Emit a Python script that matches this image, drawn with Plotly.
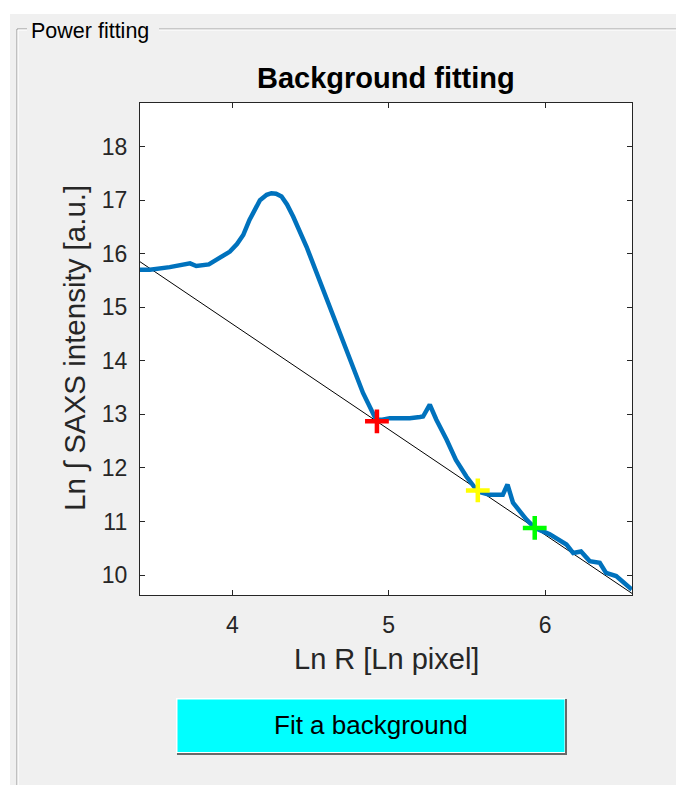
import plotly.graph_objects as go

# ---- data ----
ln_r = [3.401, 3.474, 3.60, 3.70, 3.73, 3.77, 3.85, 3.90, 3.985, 4.03, 4.07, 4.11, 4.177,
        4.22, 4.25, 4.28, 4.315, 4.35, 4.39, 4.475, 4.58, 4.667, 4.75, 4.836, 4.92, 4.96,
        5.007, 5.07, 5.135, 5.20, 5.22, 5.263, 5.305, 5.37, 5.43, 5.497, 5.57, 5.645, 5.73,
        5.76, 5.795, 5.88, 5.934, 6.03, 6.137, 6.18, 6.23, 6.285, 6.35, 6.39, 6.455, 6.555]
ln_i = [15.70, 15.70, 15.75, 15.79, 15.82, 15.77, 15.80, 15.89, 16.04, 16.18, 16.35, 16.63, 17.0,
        17.10, 17.13, 17.12, 17.07, 16.92, 16.69, 16.13, 15.33, 14.64, 14.02, 13.40, 12.90, 12.90,
        12.93, 12.92, 12.93, 12.95, 12.96, 13.18, 12.90, 12.53, 12.15, 11.84, 11.56, 11.50, 11.50,
        11.69, 11.35, 11.04, 10.88, 10.76, 10.57, 10.41, 10.44, 10.26, 10.23, 10.04, 9.98, 9.73]

point_x = [4.925, 5.57, 5.934]
point_y = [12.87, 11.58, 10.88]
point_colors = ["#ff0000", "#ffff00", "#00ff00"]

fit_slope = -1.969
fit_intercept = 22.565
fit_x = [3.401, 6.556]
fit_y = [fit_intercept + fit_slope * v for v in fit_x]

x_ticks = [4, 5, 6]
y_ticks = [10, 11, 12, 13, 14, 15, 16, 17, 18]

# ---- geometry (pixels) ----
W, H = 676, 785
L, R, T, B = 140, 632, 103, 595
PW, PH = R - L, B - T


def px(x):
    return (x - L) / PW


def py(y):
    return (B - y) / PH


FONT = "Liberation Sans, Arial, Helvetica, sans-serif"
TXT = "#262626"

fig = go.Figure()
fig.add_trace(go.Scatter(x=fit_x, y=fit_y, mode="lines",
                         line=dict(color="black", width=1), hoverinfo="skip"))
fig.add_trace(go.Scatter(x=ln_r, y=ln_i, mode="lines",
                         line=dict(color="#0072BD", width=4.5), hoverinfo="skip"))
for xx, yy, cc in zip(point_x, point_y, point_colors):
    fig.add_trace(go.Scatter(x=[xx], y=[yy], mode="markers",
                             marker=dict(symbol="cross-thin", size=17, color=cc,
                                         line=dict(color=cc, width=4.5)),
                             hoverinfo="skip"))

axis_common = dict(showline=True, linecolor=TXT, linewidth=1.3, mirror="ticks",
                   ticks="inside", ticklen=5, tickcolor=TXT, showgrid=False,
                   zeroline=False, tickfont=dict(family=FONT, size=23, color=TXT))

fig.update_xaxes(range=[3.41, 6.556], tickvals=x_ticks, ticklabelstandoff=9, **axis_common)
fig.update_yaxes(range=[9.627, 18.815], tickvals=y_ticks, ticklabelstandoff=7, **axis_common)

shapes = []
# white outer strips
shapes.append(dict(type="rect", xref="paper", yref="paper", x0=px(0), x1=px(W), y0=py(14), y1=py(0),
                   fillcolor="white", line=dict(width=0), layer="below"))
shapes.append(dict(type="rect", xref="paper", yref="paper", x0=px(0), x1=px(10), y0=py(H), y1=py(0),
                   fillcolor="white", line=dict(width=0), layer="below"))
# group box lines
for (x0, y0, x1, y1, c) in [(17, 29, 27, 29, "#a0a0a0"), (17, 30, 27, 30, "#ffffff"),
                            (159, 29, W, 29, "#a0a0a0"), (159, 30, W, 30, "#ffffff"),
                            (17, 29, 17, H, "#a0a0a0"), (18, 30, 18, H, "#ffffff")]:
    shapes.append(dict(type="line", xref="paper", yref="paper", x0=px(x0), x1=px(x1),
                       y0=py(y0), y1=py(y1), line=dict(color=c, width=1.2)))
# button
shapes.append(dict(type="rect", xref="paper", yref="paper", x0=px(177), x1=px(567), y0=py(755), y1=py(699),
                   fillcolor="#696969", line=dict(width=0)))
shapes.append(dict(type="rect", xref="paper", yref="paper", x0=px(176), x1=px(565), y0=py(753), y1=py(698),
                   fillcolor="#ffffff", line=dict(width=0)))
shapes.append(dict(type="rect", xref="paper", yref="paper", x0=px(177.5), x1=px(564.5), y0=py(752), y1=py(699.5),
                   fillcolor="#00ffff", line=dict(width=0)))

annotations = [
    dict(text="Power fitting", x=px(29), y=py(31), xref="paper", yref="paper",
         xanchor="left", yanchor="middle", showarrow=False,
         font=dict(family=FONT, size=21.5, color="#000000")),
    dict(text="<b>Background fitting</b>", x=px(386), y=py(78), xref="paper", yref="paper",
         xanchor="center", yanchor="middle", showarrow=False,
         font=dict(family=FONT, size=29, color="#000000")),
    dict(text="Ln R [Ln pixel]", x=px(386), y=py(659), xref="paper", yref="paper",
         xanchor="center", yanchor="middle", showarrow=False,
         font=dict(family=FONT, size=29, color=TXT)),
    dict(text="Ln \u222b SAXS intensity [a.u.]", x=px(75), y=py(348), xref="paper", yref="paper",
         xanchor="center", yanchor="middle", showarrow=False, textangle=-90,
         font=dict(family=FONT, size=29.5, color=TXT)),
    dict(text="Fit a background", x=px(371), y=py(725), xref="paper", yref="paper",
         xanchor="center", yanchor="middle", showarrow=False,
         font=dict(family=FONT, size=26, color="#000000")),
]

fig.update_layout(width=W, height=H, autosize=False,
                  margin=dict(l=L, r=W - R, t=T, b=H - B, pad=0),
                  paper_bgcolor="#f0f0f0", plot_bgcolor="white",
                  showlegend=False, shapes=shapes, annotations=annotations)

fig.write_html("out.html", config={"displayModeBar": False},
               post_script="document.body.style.margin='0';document.body.style.overflow='hidden';")
